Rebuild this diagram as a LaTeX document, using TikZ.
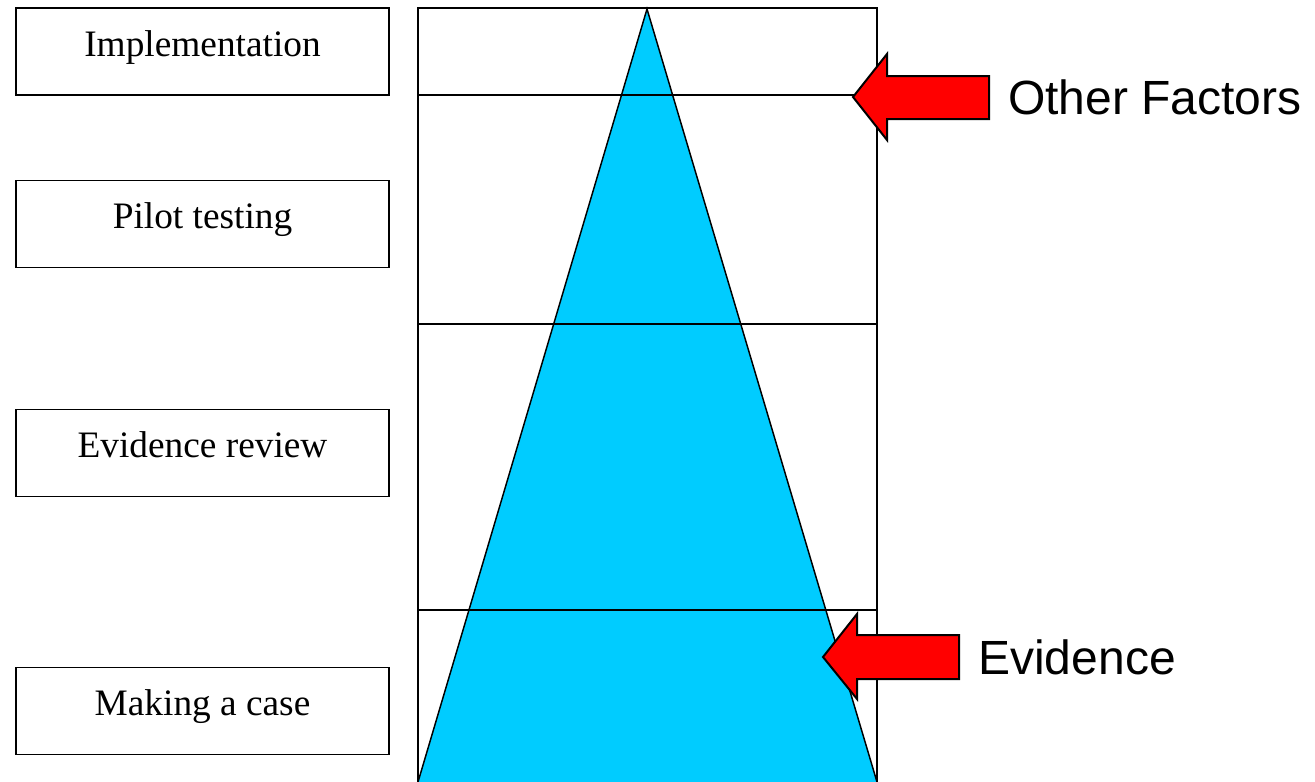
\documentclass[tikz,border=0pt]{standalone}
\usepackage{fontspec}
\setmainfont{Liberation Serif}
\newfontfamily\arialfont{Liberation Sans}
\definecolor{pyrcyan}{HTML}{00CCFF}
\definecolor{pyrred}{HTML}{FF0000}
\begin{document}
\begin{tikzpicture}[x=0.75pt,y=-0.75pt,
  stagebox/.style={draw=black,line width=1.1pt,minimum width=373*0.75pt,minimum height=87*0.75pt,inner sep=0pt,
    font=\fontsize{28}{32}\selectfont,text height=20pt,text depth=13pt},
  gridline/.style={draw=black,line width=1.1pt},
  blockarrow/.style={fill=pyrred,draw=black,line width=1.5pt,line join=miter},
  sidelabel/.style={font=\arialfont\fontsize{36}{40}\selectfont,inner sep=0pt,anchor=base west}]
\useasboundingbox (0,0) rectangle (1315,782);
% left stage boxes
\node[stagebox] (impl) at (202.5,51.5) {Implementation};
\node[stagebox] (pilot) at (202.5,224) {Pilot testing};
\node[stagebox] (review) at (202.5,453) {Evidence review};
\node[stagebox] (case) at (202.5,711) {Making a case};
% pyramid
\coordinate (apex) at (647,9);
\coordinate (bl) at (418,782);
\coordinate (br) at (877,782);
\fill[pyrcyan] (bl) -- (apex) -- (br) -- cycle;
\draw[line width=1.1pt] (bl) -- (apex) -- (br);
% frame
\coordinate (tl) at (418,8);
\coordinate (tr) at (877,8);
\draw[gridline] (bl) -- (tl) -- (tr) -- (br);
\draw[gridline] (418,95) -- (877,95);
\draw[gridline] (418,324) -- (877,324);
\draw[gridline] (418,610) -- (877,610);
% arrows
\draw[blockarrow] (853,97) -- (887,54) -- (887,76) -- (989,76) -- (989,119) -- (887,119) -- (887,140) -- cycle;
\draw[blockarrow] (823,657) -- (857,614) -- (857,635) -- (959,635) -- (959,679) -- (857,679) -- (857,699) -- cycle;
\node[sidelabel] (other) at (1008,114) {Other Factors};
\node[sidelabel] (evid) at (978,674) {Evidence};
\end{tikzpicture}
\end{document}
